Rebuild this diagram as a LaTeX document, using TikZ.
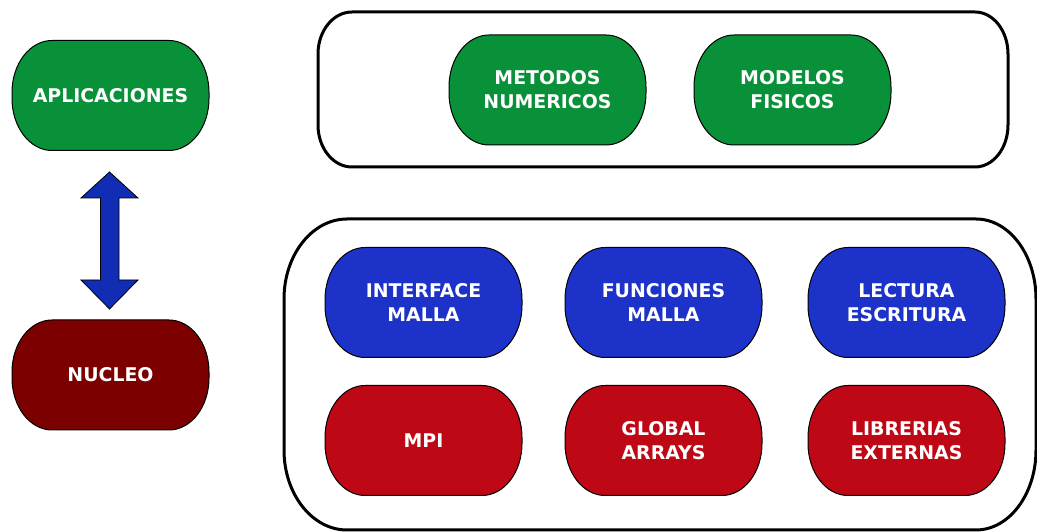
\documentclass[tikz,border=0pt]{standalone}
\usepackage{fontspec}
\newfontfamily\pillfont{DejaVu Sans}[BoldFont={DejaVu Sans Bold}]
\definecolor{cgreen}{RGB}{9,145,58}
\definecolor{cblue}{RGB}{29,50,200}
\definecolor{cred}{RGB}{190,8,22}
\definecolor{cdark}{RGB}{125,0,0}
\definecolor{carrow}{RGB}{16,45,180}
\tikzset{
  pilltext/.style={minimum width=197pt, minimum height=110pt,
    inner sep=0pt, align=center, text=white,
    font=\pillfont\bfseries\fontsize{18.9}{24}\selectfont},
  pillshape/.style={fill=#1, draw=black, line width=1pt},
  cont/.style={draw=black, line width=3pt},
  blockarrow/.style={fill=carrow, draw=black, line width=0.8pt, line join=miter}
}
\newcommand\pillnode[4]{%
  \filldraw[pillshape=#3, shift={(#2)}] (-58.5,55) -- (58.5,55)
    arc[start angle=90,end angle=0,x radius=40,y radius=52] -- (98.5,-3)
    arc[start angle=0,end angle=-90,x radius=40,y radius=52] -- (-58.5,-55)
    arc[start angle=270,end angle=180,x radius=40,y radius=52] -- (-98.5,3)
    arc[start angle=180,end angle=90,x radius=40,y radius=52] -- cycle;
  \node[pilltext] (#1) at (#2) {#4};
}
\begin{document}
\begin{tikzpicture}[x=1pt,y=1pt]
\useasboundingbox (0,0) rectangle (1037,532);
% containers
\draw[cont] (352,520) -- (975,520) arc[start angle=90,end angle=0,x radius=33,y radius=42]
  -- (1008,407) arc[start angle=0,end angle=-90,x radius=33,y radius=42]
  -- (352,365) arc[start angle=270,end angle=180,x radius=34,y radius=42]
  -- (318,478) arc[start angle=180,end angle=90,x radius=34,y radius=42] -- cycle;
\draw[cont] (347,313) -- (976,313) arc[start angle=90,end angle=0,x radius=60,y radius=80]
  -- (1036,82) arc[start angle=0,end angle=-90,x radius=60,y radius=80]
  -- (347,2) arc[start angle=270,end angle=180,x radius=63,y radius=80]
  -- (284,233) arc[start angle=180,end angle=90,x radius=63,y radius=80] -- cycle;
% left column
\pillnode{apl}{110.5,436.5}{cgreen}{APLICACIONES}
\pillnode{nuc}{110.5,157}{cdark}{NUCLEO}
\coordinate (atop) at (109.5,360);
\coordinate (abot) at (109.5,223);
\draw[blockarrow] (atop) -- (138,334) -- (119,334) -- (119,252) -- (138,252) -- (abot)
  -- (81,252) -- (100.5,252) -- (100.5,334) -- (81,334) -- cycle;
% top container
\pillnode{met}{547.5,442}{cgreen}{METODOS\\NUMERICOS}
\pillnode{mod}{792.5,442}{cgreen}{MODELOS\\FISICOS}
% bottom container
\pillnode{int}{423.5,229.5}{cblue}{INTERFACE\\MALLA}
\pillnode{fun}{663.5,229.5}{cblue}{FUNCIONES\\MALLA}
\pillnode{lec}{906.5,229.5}{cblue}{LECTURA\\ESCRITURA}
\pillnode{mpi}{423.5,91.5}{cred}{MPI}
\pillnode{glo}{663.5,91.5}{cred}{GLOBAL\\ARRAYS}
\pillnode{lib}{906.5,91.5}{cred}{LIBRERIAS\\EXTERNAS}
\end{tikzpicture}
\end{document}
